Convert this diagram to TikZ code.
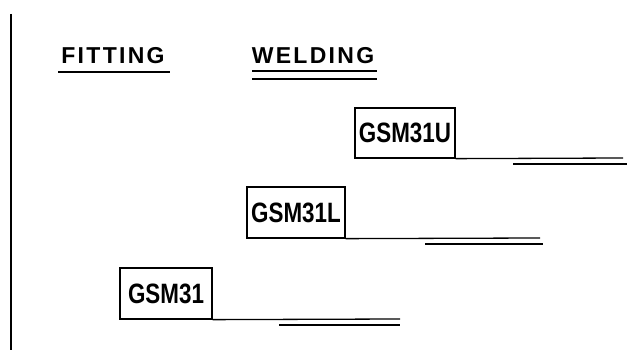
\documentclass[tikz,border=0pt]{standalone}
\usepackage{fontspec}
\setmainfont{Liberation Sans}
\newfontfamily\boxfont[FakeStretch=0.8]{Liberation Sans Bold}
\newfontfamily\headfont[LetterSpace=10]{Liberation Sans Bold}
\usetikzlibrary{positioning}
\tikzset{
  job/.style={draw, line width=1.3pt, inner sep=0pt, font=\boxfont\fontsize{28}{30}\selectfont},
  head/.style={font=\headfont\fontsize{23}{25}\selectfont},
  bar/.style={line width=1.3pt}
}
\begin{document}
\begin{tikzpicture}[x=1pt, y=1pt]
            \useasboundingbox (0,0) rectangle (633,350);
            \draw[line width=1.8pt] (11,336) -- (11,0);

            \node[head] (fit) at (113,294) {FITTING};
            \node[head] (weld) at (313,294) {WELDING};
            \draw[bar] (58,278) -- (170,278);
            \draw[bar] (252,279) -- (377,279);
            \draw[bar] (252,271) -- (377,271);

            \node[job, minimum width=100pt, minimum height=50pt] (u) at (405,217) {GSM31U};
            \node[job, minimum width=98pt, minimum height=51pt] (l) at (296,137.5) {GSM31L};
            \node[job, minimum width=92pt, minimum height=51pt] (g) at (166,56.5) {GSM31};

            \coordinate (uend) at (623,192);
            \coordinate (lend) at (540,112);
            \coordinate (gend) at (400,31);
            \draw[bar] (u.south east) -- (uend);
            \draw[bar] (l.south east) -- (lend);
            \draw[bar] (g.south east) -- (gend);

            \draw[bar] (513,186) -- (627,186);
            \draw[bar] (425,106) -- (543,106);
            \draw[bar] (279,25) -- (400,25);
        \end{tikzpicture}
\end{document}
